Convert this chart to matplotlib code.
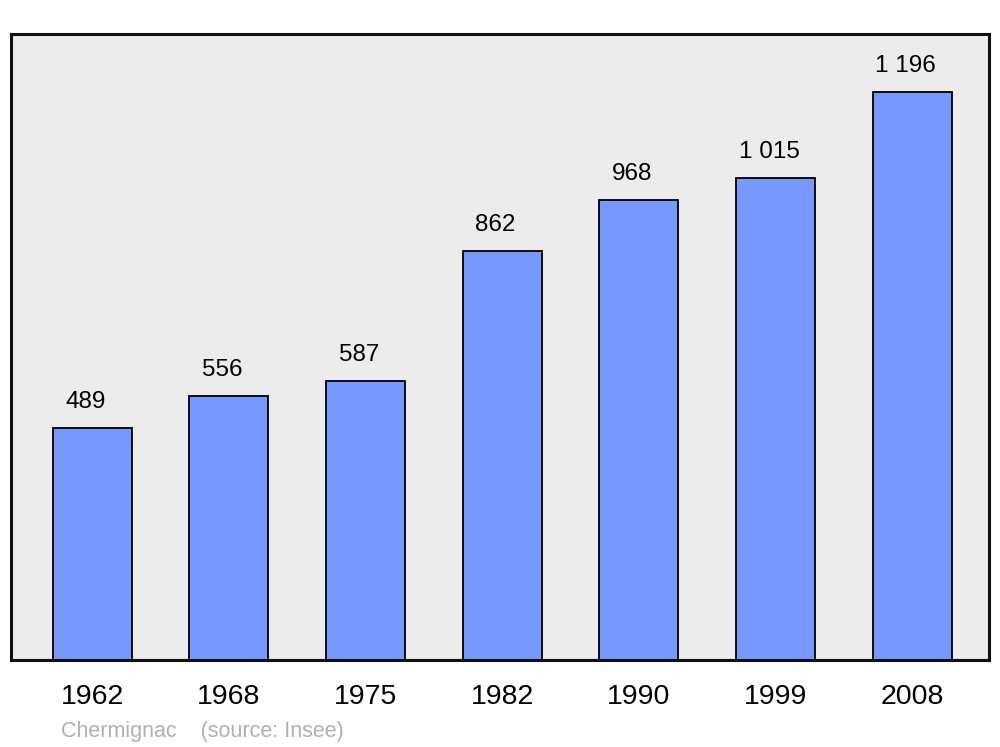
import matplotlib
matplotlib.use("Agg")
import matplotlib.pyplot as plt

years = ["1962", "1968", "1975", "1982", "1990", "1999", "2008"]
population = [489, 556, 587, 862, 968, 1015, 1196]
value_labels = ["489", "556", "587", "862", "968", "1 015", "1 196"]
footer = "Chermignac    (source: Insee)"

plt.rcParams['font.family'] = ['Liberation Sans', 'DejaVu Sans']

fig = plt.figure(figsize=(10, 7.47), dpi=100)
ax = fig.add_axes([0.011, 1 - 660/747, 0.978, (660-34)/747])
ax.set_facecolor('#ececec')

x = list(range(len(years)))
ax.bar(x, population, width=0.578, color='#7799ff', edgecolor='black', linewidth=1.3, zorder=3)
ax.set_xlim(-0.593, 6.563)
ax.set_ylim(0, 1318)
ax.set_yticks([])
ax.set_xticks(x)
ax.set_xticklabels(years, fontsize=20.5)
ax.tick_params(axis='x', length=0, pad=17)
for s in ax.spines.values():
    s.set_linewidth(2.2)
    s.set_color('#111111')

for xi, v, lab in zip(x, population, value_labels):
    ax.annotate(lab, (xi, v), xytext=(-4.6, 14.4), textcoords='offset points',
                ha='center', va='baseline', fontsize=17.5)

fig.text(0.061, 1 - 737/747, footer, fontsize=15.5, color='#b0b0b0', ha='left', va='baseline')

fig.savefig('out.png', dpi=100)
